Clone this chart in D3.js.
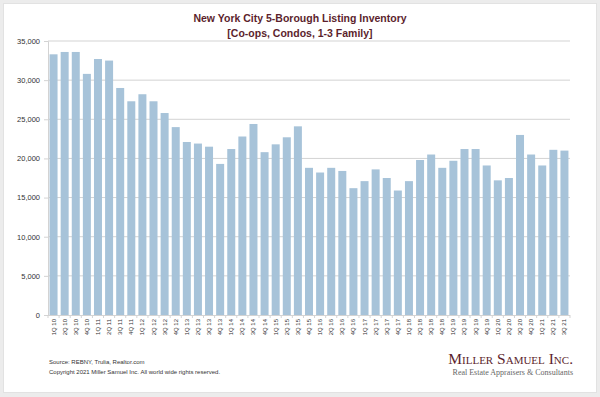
<!DOCTYPE html>
<html>
<head>
<meta charset="utf-8">
<script src="https://cdn.jsdelivr.net/npm/d3@7"></script>
<style>
  html, body { margin: 0; padding: 0; background: #ececec; }
  svg { display: block; }
</style>
</head>
<body>
<div id="viz"></div>
<script>
// quarter labels, 1Q10 .. 3Q21
const YEARS = ["10", "11", "12", "13", "14", "15", "16", "17", "18", "19", "20", "21"];
const QUARTERS = YEARS.flatMap(y => ["1Q", "2Q", "3Q", "4Q"].map(q => q + " " + y)).slice(0, 47);

// listing inventory
const INVENTORY = [
  33300, 33600, 33600, 30800,
  32700, 32500, 29000, 27300,
  28200, 27300, 25800, 24000,
  22100, 21900, 21500, 19300,
  21200, 22800, 24400, 20800,
  21800, 22700, 24100, 18800,
  18200, 18800, 18400, 16200,
  17100, 18600, 17500, 15900,
  17100, 19800, 20500, 18800,
  19700, 21200, 21200, 19100,
  17200, 17500, 23000, 20500,
  19100, 21100, 21000
];

const Y_TICKS = [0, 5000, 10000, 15000, 20000, 25000, 30000, 35000];

const TITLE_LINES = ["New York City 5-Borough Listing Inventory", "[Co-ops, Condos, 1-3 Family]"];
const FOOTNOTES = ["Source: REBNY, Trulia, Realtor.com", "Copyright 2021 Miller Samuel Inc.  All world wide rights reserved."];

const W = 600, H = 397;
const MAROON = "#5c1f2d";
const BAR = "#a7c3d9";
const GRID = "#d3d3d3";
const SANS = "Liberation Sans, Arial, sans-serif";
const SERIF = "Liberation Serif, Times New Roman, serif";
const plot = { left: 48, right: 570, top: 41, bottom: 315 };

const svg = d3.select("#viz").append("svg").attr("width", W).attr("height", H);

// card
svg.append("rect").attr("x", 3.5).attr("y", 3.5).attr("width", 593).attr("height", 389)
  .attr("fill", "#fff").attr("stroke", "#e2e2e2");

svg.selectAll("text.title").data(TITLE_LINES).join("text")
  .attr("class", "title")
  .attr("x", 300).attr("y", (d, i) => 22 + i * 15)
  .attr("text-anchor", "middle")
  .attr("font-family", SANS)
  .attr("font-weight", "bold").attr("font-size", 10.5)
  .attr("fill", MAROON).text(d => d);

const x = d3.scaleBand().domain(QUARTERS).range([plot.left, plot.right])
  .paddingInner(0.28).paddingOuter(0.14);
const y = d3.scaleLinear().domain([0, 35000]).range([plot.bottom, plot.top]);

// grid + y axis
const yAxis = svg.append("g").attr("transform", `translate(${plot.left},0)`)
  .call(d3.axisLeft(y).tickValues(Y_TICKS).tickSize(4).tickPadding(4).tickFormat(d3.format(",")));
yAxis.select(".domain").attr("stroke", GRID);
yAxis.selectAll(".tick line").attr("stroke", GRID);
yAxis.selectAll(".tick text").attr("font-family", SANS)
  .attr("font-size", 7.5).attr("fill", "#333");

svg.append("g").selectAll("line").data(Y_TICKS.filter(d => d > 0)).join("line")
  .attr("x1", plot.left).attr("x2", plot.right)
  .attr("y1", d => y(d)).attr("y2", d => y(d))
  .attr("stroke", GRID).attr("stroke-width", 1);

// bars
svg.append("g").selectAll("rect").data(INVENTORY).join("rect")
  .attr("x", (d, i) => x(QUARTERS[i]))
  .attr("width", x.bandwidth())
  .attr("y", d => y(d))
  .attr("height", d => y(0) - y(d))
  .attr("fill", BAR);

// x axis with ticks between categories
svg.append("line").attr("x1", plot.left).attr("x2", plot.right)
  .attr("y1", plot.bottom + 0.5).attr("y2", plot.bottom + 0.5).attr("stroke", GRID);
const cat = (plot.right - plot.left) / QUARTERS.length;
svg.append("g").selectAll("line").data(d3.range(QUARTERS.length + 1)).join("line")
  .attr("x1", i => plot.left + i * cat)
  .attr("x2", i => plot.left + i * cat)
  .attr("y1", plot.bottom).attr("y2", plot.bottom + 3)
  .attr("stroke", GRID);

svg.append("g").selectAll("text").data(QUARTERS).join("text")
  .attr("transform", d => `translate(${x(d) + x.bandwidth() / 2 + 2},${plot.bottom + 4}) rotate(-90)`)
  .attr("text-anchor", "end")
  .attr("font-family", SANS)
  .attr("font-size", 6).attr("fill", "#333")
  .text(d => d);

// footnotes
svg.selectAll("text.foot").data(FOOTNOTES).join("text")
  .attr("class", "foot")
  .attr("x", 49).attr("y", (d, i) => 364 + i * 9.5)
  .attr("font-family", SANS)
  .attr("font-size", 6).attr("fill", "#333").text(d => d);

// logo
svg.append("text").attr("x", 573).attr("y", 364).attr("text-anchor", "end")
  .attr("font-family", SERIF)
  .attr("font-size", 15.5).attr("font-variant", "small-caps")
  .attr("fill", MAROON).text("Miller Samuel Inc.");
svg.append("text").attr("x", 573).attr("y", 374.5).attr("text-anchor", "end")
  .attr("font-family", SERIF)
  .attr("font-size", 8).attr("fill", "#666")
  .text("Real Estate Appraisers & Consultants");
</script>
</body>
</html>
